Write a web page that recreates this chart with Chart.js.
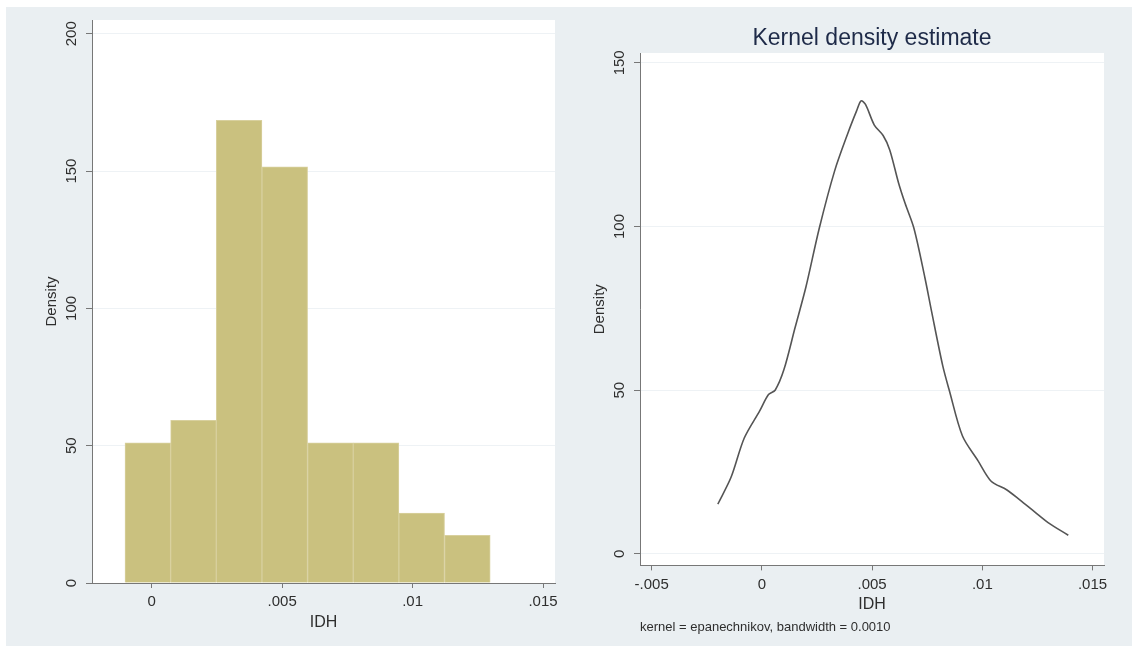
<!DOCTYPE html>
<html>
<head>
<meta charset="utf-8">
<script src="https://cdn.jsdelivr.net/npm/chart.js@4.4.1/dist/chart.umd.min.js"></script>
<style>
    html, body { margin: 0; padding: 0; background: #ffffff; }
    #wrap { position: relative; width: 1132px; height: 646px; overflow: hidden; }
    #bg { position: absolute; left: 6px; top: 7px; width: 1126px; height: 639px; background: #eaeff2; }
    canvas { position: absolute; top: 0; }
    #hist-chart { left: 0; }
    #kde-chart { left: 566px; }
</style>
</head>
<body>
<div id="wrap">
    <div id="bg"></div>
    <canvas id="hist-chart" width="566" height="646"></canvas>
    <canvas id="kde-chart" width="566" height="646"></canvas>
</div>
<script>
/*--------------------------------------------------------------
| Data
--------------------------------------------------------------*/
// histogram: bin centres (IDH) and density heights
const histBinCenters = [-0.00015, 0.0016, 0.00335, 0.0051, 0.00685, 0.0086, 0.01035, 0.0121];
const histDensity = [51, 59.2, 168.5, 151.5, 51, 51, 25.5, 17.4];

// kernel density estimate curve
const kdeIDH = [
    -0.002, -0.0014, -0.0008, -0.0001, 0.0003, 0.0006, 0.001, 0.0015, 0.002,
    0.0026, 0.0033, 0.0039, 0.0043, 0.0045, 0.0047, 0.0051, 0.0055, 0.0058,
    0.0062, 0.0065, 0.0069, 0.0074, 0.0077, 0.0082, 0.0085, 0.0091, 0.0098,
    0.0104, 0.0111, 0.0117, 0.0124, 0.013, 0.0139,
];
const kdeDensity = [
    15.2, 23.4, 35.4, 43.7, 48.7, 50, 56.3, 69, 81.6,
    99.4, 117, 128.5, 135.4, 138.4, 137.3, 131, 127.8, 123.4,
    113.3, 107, 99.4, 84.2, 74, 57.6, 50, 36, 28.5,
    22.2, 19.6, 16.5, 12.7, 9.5, 5.7,
];

// axis ticks
const histXTicks = [0, 0.005, 0.01, 0.015];
const histYTicks = [0, 50, 100, 150, 200];
const kdeXTicks = [-0.005, 0, 0.005, 0.01, 0.015];
const kdeYTicks = [0, 50, 100, 150];

const kdeTitle = "Kernel density estimate";
const kdeNote = "kernel = epanechnikov, bandwidth = 0.0010";

/*--------------------------------------------------------------
| Shared styling
--------------------------------------------------------------*/
Chart.defaults.font.family = "'Liberation Sans', Arial, sans-serif";
Chart.defaults.color = "#2e2e2e";

const axisColor = "#777777";
const gridColor = "#eef2f5";

// Stata style labels: .005, -.005, 0
function stataLabel(v) {
    return v === 0 ? "0" : String(v).replace("0.", ".");
}

// white plot region on the grey page
const plotBackground = {
    id: "plotBackground",
    beforeDraw(chart) {
        const { ctx, chartArea } = chart;
        ctx.save();
        ctx.fillStyle = "#ffffff";
        ctx.fillRect(chartArea.left + 1, chartArea.top, chartArea.right - chartArea.left - 1, chartArea.bottom - chartArea.top);
        ctx.restore();
    },
};

function xAxis(min, max, ticks) {
    return {
        type: "linear",
        min: min,
        max: max,
        offset: false,
        afterBuildTicks: (scale) => {
            scale.ticks = ticks.map((v) => ({ value: v }));
        },
        afterFit: (scale) => {
            scale.height = 49;
        },
        grid: {
            offset: false,
            drawOnChartArea: false,
            tickLength: 5,
            tickColor: axisColor,
        },
        border: { color: axisColor, width: 1 },
        ticks: {
            padding: 5,
            maxRotation: 0,
            font: { size: 15 },
            callback: (v) => stataLabel(v),
        },
        title: {
            display: true,
            text: "IDH",
            font: { size: 16 },
            padding: { top: 0, bottom: 0 },
        },
    };
}

function yAxis(min, max, ticks) {
    return {
        min: min,
        max: max,
        afterBuildTicks: (scale) => {
            scale.ticks = ticks.map((v) => ({ value: v }));
        },
        afterFit: (scale) => {
            scale.width = 49;
        },
        grid: {
            color: gridColor,
            tickLength: 6,
            tickColor: axisColor,
        },
        border: { color: axisColor, width: 1 },
        ticks: {
            minRotation: 90,
            maxRotation: 90,
            crossAlign: "center",
            padding: 2,
            font: { size: 15 },
        },
        title: {
            display: true,
            text: "Density",
            font: { size: 15 },
            padding: { top: 0, bottom: 0 },
        },
    };
}

/*--------------------------------------------------------------
| Histogram
--------------------------------------------------------------*/
new Chart(document.getElementById("hist-chart"), {
    type: "bar",
    data: {
        datasets: [
            {
                data: histBinCenters.map((x, i) => ({ x: x, y: histDensity[i] })),
                backgroundColor: "#cac17f",
                borderColor: "#d8d09e",
                borderWidth: 1,
                barPercentage: 1,
                categoryPercentage: 1,
            },
        ],
    },
    options: {
        responsive: false,
        animation: false,
        layout: { padding: { left: 43, right: 11, top: 20, bottom: 14 } },
        plugins: {
            legend: { display: false },
            tooltip: { enabled: false },
        },
        scales: {
            x: xAxis(-0.00229, 0.01546, histXTicks),
            y: yAxis(0, 205, histYTicks),
        },
    },
    plugins: [plotBackground],
});

/*--------------------------------------------------------------
| Kernel density
--------------------------------------------------------------*/
new Chart(document.getElementById("kde-chart"), {
    type: "line",
    data: {
        datasets: [
            {
                data: kdeIDH.map((x, i) => ({ x: x, y: kdeDensity[i] })),
                borderColor: "#555555",
                borderWidth: 1.6,
                pointRadius: 0,
                tension: 0.3,
                fill: false,
            },
        ],
    },
    options: {
        responsive: false,
        animation: false,
        layout: { padding: { left: 25, right: 28, top: 0, bottom: 11 } },
        plugins: {
            legend: { display: false },
            tooltip: { enabled: false },
            title: {
                display: true,
                text: kdeTitle,
                fullSize: false,
                color: "#1e2a48",
                font: { size: 23, weight: "normal", lineHeight: 1 },
                padding: { top: 27.5, bottom: 2.5 },
            },
            subtitle: {
                display: true,
                text: kdeNote,
                position: "bottom",
                align: "start",
                fullSize: false,
                color: "#2e2e2e",
                font: { size: 13 },
                padding: { top: 5, bottom: 0 },
            },
        },
        scales: {
            x: xAxis(-0.00553, 0.01552, kdeXTicks),
            y: yAxis(-3.5, 153, kdeYTicks),
        },
    },
    plugins: [plotBackground],
});
</script>
</body>
</html>
